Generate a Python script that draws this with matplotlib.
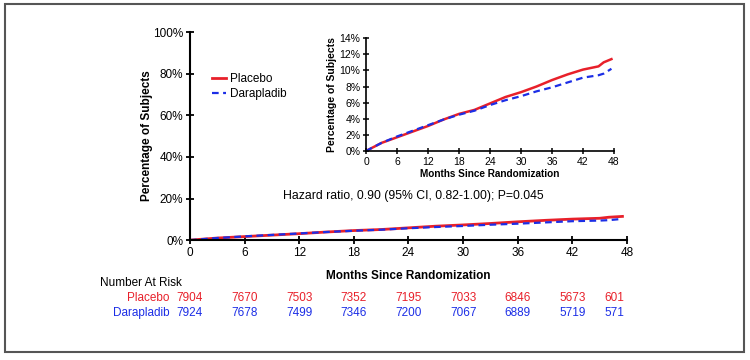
import numpy as np
import matplotlib.pyplot as plt
from matplotlib.patches import Rectangle

plt.rcParams['font.family'] = ['Liberation Sans', 'DejaVu Sans']

# Curvas acumuladas (%)
meses = [0, 3, 6, 9, 12, 15, 18, 21, 24, 27, 30, 33, 36, 39, 42, 45, 46, 47.5]
placebo = [0, 1.0, 1.7, 2.4, 3.1, 3.9, 4.6, 5.1, 5.9, 6.7, 7.3, 8.0, 8.8, 9.5, 10.1, 10.5, 11.0, 11.4]
darapladib = [0, 1.0, 1.8, 2.5, 3.2, 3.9, 4.5, 5.0, 5.7, 6.3, 6.8, 7.4, 7.9, 8.5, 9.1, 9.4, 9.6, 10.2]

# Número en riesgo
meses_riesgo = [0, 6, 12, 18, 24, 30, 36, 42, 46.6]
riesgo_placebo = [7904, 7670, 7503, 7352, 7195, 7033, 6846, 5673, 601]
riesgo_darapladib = [7924, 7678, 7499, 7346, 7200, 7067, 6889, 5719, 571]

rojo = '#e8202a'
azul = '#1c2ee6'
xticks = np.arange(0, 49, 6)

fig = plt.figure(figsize=(7.5, 3.6), dpi=100)
fig.patches.append(Rectangle((0.007, 0.022), 0.985, 0.966, transform=fig.transFigure,
                             fill=False, edgecolor='#555555', linewidth=1.5))

# Gráfica principal
ax = fig.add_axes([0.2533, 0.333, 0.5827, 0.578])
ax.plot(meses, placebo, color=rojo, lw=2, label='Placebo')
ax.plot(meses, darapladib, color=azul, lw=1.6, ls=(0, (3, 2)), label='Darapladib')
ax.set_xlim(0, 48)
ax.set_ylim(0, 100)
ax.set_xticks(xticks)
ax.set_yticks(np.arange(0, 101, 20))
ax.set_yticklabels([f'{v}%' for v in range(0, 101, 20)])
for s in ['top', 'right']:
    ax.spines[s].set_visible(False)
for s in ['left', 'bottom']:
    ax.spines[s].set_linewidth(1.5)
ax.tick_params(direction='inout', length=6, width=1.3, labelsize=8.5, pad=2)
ax.set_xlabel('Months Since Randomization', fontsize=8.5, fontweight='bold', labelpad=8)
ax.set_ylabel('Percentage of Subjects', fontsize=8.5, fontweight='bold', labelpad=0)
ax.legend(loc='upper left', bbox_to_anchor=(0.025, 0.855), frameon=False, fontsize=8.5,
          handlelength=1.2, handletextpad=0.4, labelspacing=0.25)
ax.text(24.5, 21, 'Hazard ratio, 0.90 (95% CI, 0.82-1.00); P=0.045', ha='center',
        va='center', fontsize=8.8)

# Número en riesgo
ax.text(-9.9, -20.7, 'Number At Risk', ha='left', va='center', fontsize=8.5, clip_on=False)
ax.text(-2.2, -27.9, 'Placebo', ha='right', va='center', fontsize=8.5, color=rojo, clip_on=False)
ax.text(-2.2, -35.0, 'Darapladib', ha='right', va='center', fontsize=8.5, color=azul, clip_on=False)
for m, p, d in zip(meses_riesgo, riesgo_placebo, riesgo_darapladib):
    ax.text(m, -27.9, str(p), ha='center', va='center', fontsize=8.5, color=rojo, clip_on=False)
    ax.text(m, -35.0, str(d), ha='center', va='center', fontsize=8.5, color=azul, clip_on=False)

# Recuadro ampliado
ins = fig.add_axes([0.488, 0.5806, 0.3307, 0.3134])
ins.plot(meses, placebo, color=rojo, lw=1.8)
ins.plot(meses, darapladib, color=azul, lw=1.6, ls=(0, (3, 2)))
ins.set_xlim(0, 48)
ins.set_ylim(0, 14)
ins.set_xticks(xticks)
ins.set_yticks(np.arange(0, 15, 2))
ins.set_yticklabels([f'{v}%' for v in range(0, 15, 2)])
for s in ['top', 'right']:
    ins.spines[s].set_visible(False)
for s in ['left', 'bottom']:
    ins.spines[s].set_linewidth(1.2)
ins.tick_params(direction='inout', length=5, width=1.1, labelsize=7.5, pad=1.5)
ins.set_xlabel('Months Since Randomization', fontsize=7.2, fontweight='bold', labelpad=2)
ins.set_ylabel('Percentage of Subjects', fontsize=7.5, fontweight='bold', labelpad=2)

fig.savefig('out.png', dpi=100)
